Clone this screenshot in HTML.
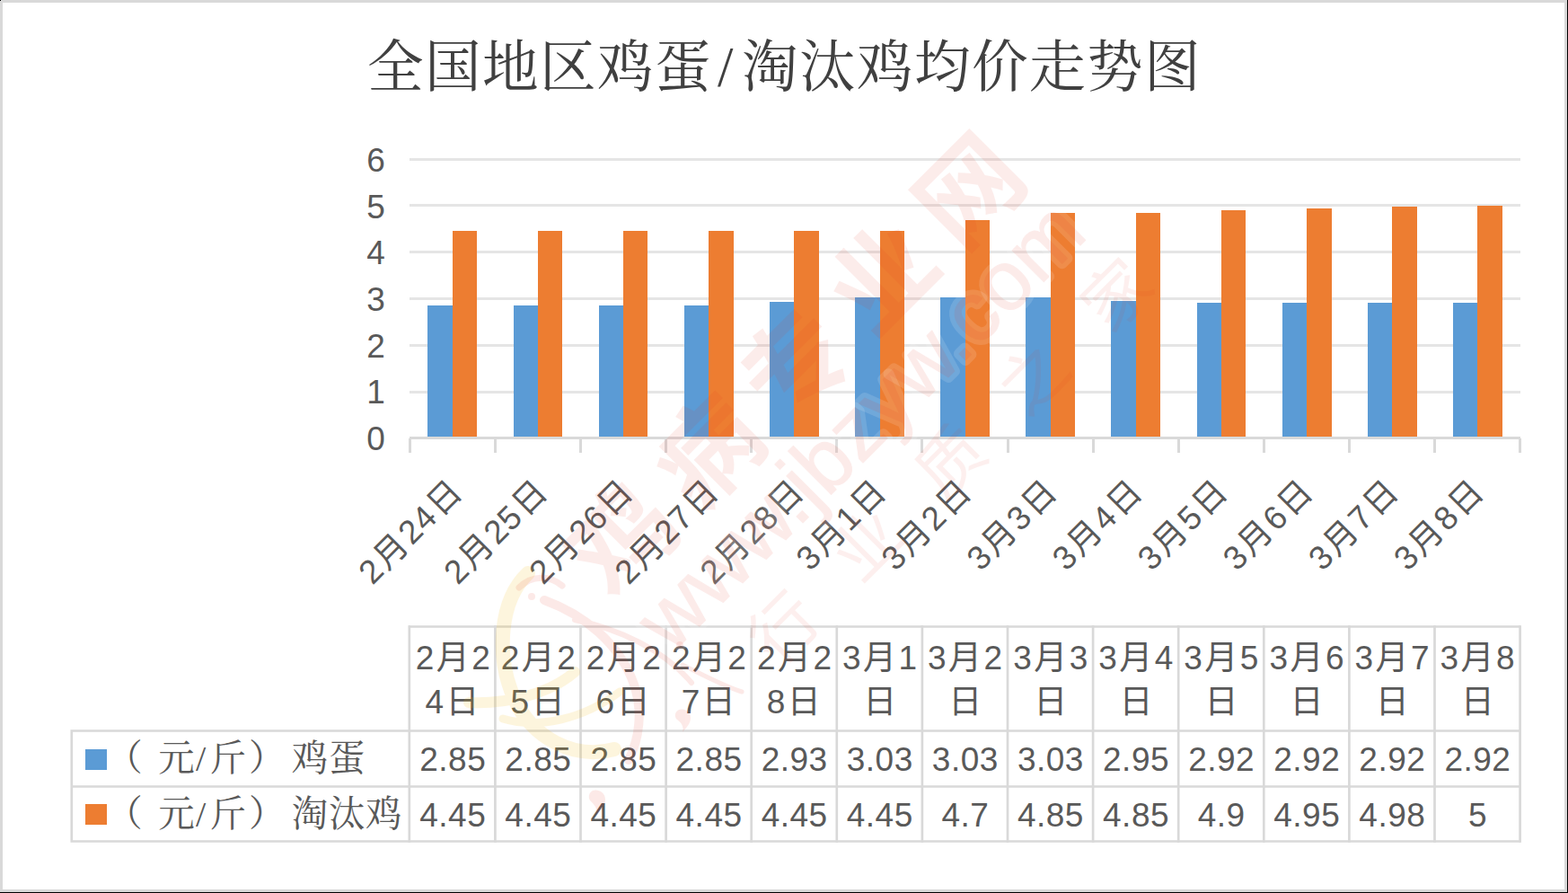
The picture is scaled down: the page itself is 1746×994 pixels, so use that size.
<!DOCTYPE html>
<html lang="zh"><head><meta charset="utf-8"><title>全国地区鸡蛋/淘汰鸡均价走势图</title>
<style>
html,body{margin:0;padding:0;background:#fff}
body{width:1746px;height:994px;overflow:hidden;font-family:"Liberation Sans",sans-serif}
svg{display:block}
svg text{font-family:"Liberation Sans","Noto Sans CJK SC",sans-serif}
svg text.serif{font-family:"Liberation Serif","Noto Serif CJK SC",serif}
</style></head><body>
<svg width="1746" height="994" viewBox="0 0 1746 994">
<rect x="0" y="0" width="1746" height="994" fill="#fff"/>
<path d="M0 0H1746V994H0Z M3 3V990H1742V3Z" fill="#d9d9d9" fill-rule="evenodd"/>
<rect x="1745" y="0" width="1" height="994" fill="#000"/><rect x="0" y="993" width="1746" height="1" fill="#000"/><rect x="0" y="0" width="1" height="1" fill="#000"/>
<g fill="#404040">
<text class="serif" font-size="62.7" y="95.6" x="409.1 473.1 537.1 601.1 665.1 729.1 799 826.1 890.1 954.1 1018.1 1082.1 1146.1 1210.1 1274.1">全国地区鸡蛋/淘汰鸡均价走势图</text>
</g>
<g fill="#e5e5e5">
<rect x="456" y="435" width="1237" height="3"/>
<rect x="456" y="383" width="1237" height="3"/>
<rect x="456" y="331" width="1237" height="3"/>
<rect x="456" y="279" width="1237" height="3"/>
<rect x="456" y="227" width="1237" height="3"/>
<rect x="456" y="176" width="1237" height="3"/>
</g>
<g fill="#5b9bd5"><rect x="476" y="340" width="28" height="146"/><rect x="572" y="340" width="27" height="146"/><rect x="667" y="340" width="27" height="146"/><rect x="762" y="340" width="27" height="146"/><rect x="857" y="336" width="27" height="150"/><rect x="952" y="331" width="28" height="155"/><rect x="1047" y="331" width="28" height="155"/><rect x="1142" y="331" width="28" height="155"/><rect x="1237" y="335" width="28" height="151"/><rect x="1333" y="337" width="27" height="149"/><rect x="1428" y="337" width="27" height="149"/><rect x="1523" y="337" width="27" height="149"/><rect x="1618" y="337" width="27" height="149"/></g>
<g fill="#ed7d31"><rect x="504" y="257" width="27" height="229"/><rect x="599" y="257" width="27" height="229"/><rect x="694" y="257" width="27" height="229"/><rect x="789" y="257" width="28" height="229"/><rect x="884" y="257" width="28" height="229"/><rect x="980" y="257" width="27" height="229"/><rect x="1075" y="245" width="27" height="241"/><rect x="1170" y="237" width="27" height="249"/><rect x="1265" y="237" width="27" height="249"/><rect x="1360" y="234" width="27" height="252"/><rect x="1455" y="232" width="28" height="254"/><rect x="1550" y="230" width="28" height="256"/><rect x="1645" y="229" width="28" height="257"/></g>
<g fill="#d9d9d9"><rect x="456" y="486" width="1237" height="3"/>
<rect x="455" y="488" width="3" height="16"/>
<rect x="550" y="488" width="3" height="16"/>
<rect x="645" y="488" width="3" height="16"/>
<rect x="740" y="488" width="3" height="16"/>
<rect x="835" y="488" width="3" height="16"/>
<rect x="930" y="488" width="3" height="16"/>
<rect x="1025" y="488" width="3" height="16"/>
<rect x="1121" y="488" width="3" height="16"/>
<rect x="1216" y="488" width="3" height="16"/>
<rect x="1311" y="488" width="3" height="16"/>
<rect x="1406" y="488" width="3" height="16"/>
<rect x="1501" y="488" width="3" height="16"/>
<rect x="1596" y="488" width="3" height="16"/>
<rect x="1691" y="488" width="3" height="16"/>
</g>
<g font-size="37" text-anchor="end" fill="#595959">
<text x="428.8" y="501.1">0</text>
<text x="428.8" y="449.43">1</text>
<text x="428.8" y="397.77">2</text>
<text x="428.8" y="346.1">3</text>
<text x="428.8" y="294.43">4</text>
<text x="428.8" y="242.76">5</text>
<text x="428.8" y="191.1">6</text>
</g>
<g fill="#595959" font-size="37">
<g transform="translate(518.2 548.5) rotate(-45)"><text x="-146.43 -123.45 -83.96 -62.48 -39.32" y="0">2月24日</text></g>
<g transform="translate(613.28 548.5) rotate(-45)"><text x="-146.43 -123.45 -83.96 -62.48 -39.32" y="0">2月25日</text></g>
<g transform="translate(708.35 548.5) rotate(-45)"><text x="-146.43 -123.45 -83.96 -62.48 -39.32" y="0">2月26日</text></g>
<g transform="translate(803.43 548.5) rotate(-45)"><text x="-146.43 -123.45 -83.96 -62.48 -39.32" y="0">2月27日</text></g>
<g transform="translate(898.51 548.5) rotate(-45)"><text x="-146.43 -123.45 -83.96 -62.48 -39.32" y="0">2月28日</text></g>
<g transform="translate(990.29 548.5) rotate(-45)"><text x="-124.96 -101.97 -62.48 -39.32" y="0">3月1日</text></g>
<g transform="translate(1085.36 548.5) rotate(-45)"><text x="-124.96 -101.97 -62.48 -39.32" y="0">3月2日</text></g>
<g transform="translate(1180.44 548.5) rotate(-45)"><text x="-124.96 -101.97 -62.48 -39.32" y="0">3月3日</text></g>
<g transform="translate(1275.52 548.5) rotate(-45)"><text x="-124.96 -101.97 -62.48 -39.32" y="0">3月4日</text></g>
<g transform="translate(1370.59 548.5) rotate(-45)"><text x="-124.96 -101.97 -62.48 -39.32" y="0">3月5日</text></g>
<g transform="translate(1465.67 548.5) rotate(-45)"><text x="-124.96 -101.97 -62.48 -39.32" y="0">3月6日</text></g>
<g transform="translate(1560.75 548.5) rotate(-45)"><text x="-124.96 -101.97 -62.48 -39.32" y="0">3月7日</text></g>
<g transform="translate(1655.82 548.5) rotate(-45)"><text x="-124.96 -101.97 -62.48 -39.32" y="0">3月8日</text></g>
</g>
<g stroke="#d9d9d9" stroke-width="2.7" fill="none">
<path d="M455 697.5H1693.4M78.5 813.5H1693.4M78.5 875.5H1693.4M78.5 936.5H1693.4M79.8 812.2V937.8"/>
<line x1="455.8" x2="455.8" y1="696.2" y2="937.8"/>
<line x1="551.4" x2="551.4" y1="696.2" y2="937.8"/>
<line x1="646.5" x2="646.5" y1="696.2" y2="937.8"/>
<line x1="741.6" x2="741.6" y1="696.2" y2="937.8"/>
<line x1="836.7" x2="836.7" y1="696.2" y2="937.8"/>
<line x1="931.8" x2="931.8" y1="696.2" y2="937.8"/>
<line x1="1026.9" x2="1026.9" y1="696.2" y2="937.8"/>
<line x1="1122" x2="1122" y1="696.2" y2="937.8"/>
<line x1="1217.1" x2="1217.1" y1="696.2" y2="937.8"/>
<line x1="1312.2" x2="1312.2" y1="696.2" y2="937.8"/>
<line x1="1407.3" x2="1407.3" y1="696.2" y2="937.8"/>
<line x1="1502.4" x2="1502.4" y1="696.2" y2="937.8"/>
<line x1="1597.5" x2="1597.5" y1="696.2" y2="937.8"/>
<line x1="1692.6" x2="1692.6" y1="696.2" y2="937.8"/>
</g>
<rect x="95" y="834" width="24" height="23" fill="#5b9bd5"/><rect x="95" y="895" width="24" height="23" fill="#ed7d31"/>
<g fill="#595959">
<text class="serif" font-size="40.5" y="858.2" x="118.3 176.3 218 233.5 277 324.8 365.9">（元/斤）鸡蛋</text>
</g>
<g fill="#595959">
<text class="serif" font-size="40.5" y="919.7" x="118.3 176.3 218 233.5 277 324.8 365.9 407">（元/斤）淘汰鸡</text>
</g>
<g fill="#595959" font-size="37">
<g>
<text x="462.66 485.65 525.14" y="745">2月2</text>
<text x="473.4 496.56" y="793.5">4日</text>
</g>
<g>
<text x="557.74 580.73 620.22" y="745">2月2</text>
<text x="568.48 591.64" y="793.5">5日</text>
</g>
<g>
<text x="652.81 675.8 715.29" y="745">2月2</text>
<text x="663.55 686.71" y="793.5">6日</text>
</g>
<g>
<text x="747.89 770.88 810.37" y="745">2月2</text>
<text x="758.63 781.79" y="793.5">7日</text>
</g>
<g>
<text x="842.97 865.96 905.45" y="745">2月2</text>
<text x="853.71 876.87" y="793.5">8日</text>
</g>
<g>
<text x="938.05 961.03 1000.52" y="745">3月1</text>
<text x="961.21" y="793.5">日</text>
</g>
<g>
<text x="1033.12 1056.11 1095.6" y="745">3月2</text>
<text x="1056.28" y="793.5">日</text>
</g>
<g>
<text x="1128.2 1151.19 1190.68" y="745">3月3</text>
<text x="1151.36" y="793.5">日</text>
</g>
<g>
<text x="1223.28 1246.26 1285.75" y="745">3月4</text>
<text x="1246.44" y="793.5">日</text>
</g>
<g>
<text x="1318.35 1341.34 1380.83" y="745">3月5</text>
<text x="1341.51" y="793.5">日</text>
</g>
<g>
<text x="1413.43 1436.42 1475.91" y="745">3月6</text>
<text x="1436.59" y="793.5">日</text>
</g>
<g>
<text x="1508.51 1531.5 1570.99" y="745">3月7</text>
<text x="1531.67" y="793.5">日</text>
</g>
<g>
<text x="1603.58 1626.57 1666.06" y="745">3月8</text>
<text x="1626.75" y="793.5">日</text>
</g>
</g>
<g fill="#595959" font-size="37" text-anchor="middle" letter-spacing="0.5">
<text x="504.25" y="858">2.85</text>
<text x="504.25" y="920">4.45</text>
<text x="599.35" y="858">2.85</text>
<text x="599.35" y="920">4.45</text>
<text x="694.45" y="858">2.85</text>
<text x="694.45" y="920">4.45</text>
<text x="789.55" y="858">2.85</text>
<text x="789.55" y="920">4.45</text>
<text x="884.65" y="858">2.93</text>
<text x="884.65" y="920">4.45</text>
<text x="979.75" y="858">3.03</text>
<text x="979.75" y="920">4.45</text>
<text x="1074.85" y="858">3.03</text>
<text x="1074.85" y="920">4.7</text>
<text x="1169.95" y="858">3.03</text>
<text x="1169.95" y="920">4.85</text>
<text x="1265.05" y="858">2.95</text>
<text x="1265.05" y="920">4.85</text>
<text x="1360.15" y="858">2.92</text>
<text x="1360.15" y="920">4.9</text>
<text x="1455.25" y="858">2.92</text>
<text x="1455.25" y="920">4.95</text>
<text x="1550.35" y="858">2.92</text>
<text x="1550.35" y="920">4.98</text>
<text x="1645.45" y="858">2.92</text>
<text x="1645.45" y="920">5</text>
</g>
<g opacity="0.085" fill="#e8301c">
<g transform="translate(691 598) rotate(-45)">
<text font-size="114" font-weight="bold" y="43.32" x="-57 80 217 354 491">鸡病专业网</text>
</g></g>
<g transform="translate(1213 263) rotate(-45)" font-size="94" text-anchor="end" stroke-linejoin="round" stroke-linecap="round">
<text x="0" y="0" fill="none" stroke="#fff" stroke-opacity="0.13" stroke-width="12">www.jbzyw.com</text>
<g opacity="0.09"><text x="0" y="0" fill="#e8301c" stroke="#e8301c" stroke-width="1">www.jbzyw.com</text></g>
</g>
<g opacity="0.07" fill="#e8301c" transform="translate(873 699) rotate(-45)">
<text font-size="74" y="26.64" x="-37 94 225 356 487">行业质之家</text>
</g>
<g fill="none" stroke-linecap="round" stroke-linejoin="round">
<g opacity="0.13" stroke="#f7b500"><path d="M588 638C556 668 552 730 572 776C592 822 640 846 684 834" stroke-width="16"/><path d="M522 782C566 784 612 772 640 748" stroke-width="12"/><path d="M560 800C600 812 650 800 690 770" stroke-width="9"/></g>
<g opacity="0.1" stroke="#e8301c"><path d="M578 654C592 640 612 640 626 652" stroke-width="7"/><path d="M606 668C650 684 690 716 706 762C716 792 712 822 700 846" stroke-width="10"/><path d="M640 690C690 700 740 724 770 760" stroke-width="6"/><path d="M760 740C784 752 806 764 826 770" stroke-width="5"/></g>
<g opacity="0.1" fill="#e8301c"><circle cx="592" cy="664" r="4"/><path d="M660 880c6 -2 14 2 14 10c0 8 -6 12 -10 18c2 -8 -2 -12 -6 -16c-4 -4 -2 -10 2 -12z"/><path d="M756 790c6 -2 13 2 13 9c0 7 -5 11 -9 16c2 -7 -2 -11 -6 -14c-4 -4 -2 -9 2 -11z"/><circle cx="757" cy="718" r="4"/></g>
</g>
</svg>
</body></html>
